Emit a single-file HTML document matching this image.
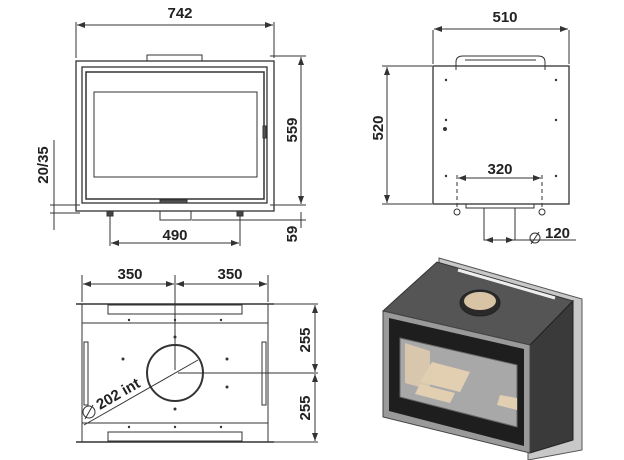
<!DOCTYPE html>
<html><head><style>body{margin:0;background:#fff}svg{display:block}text{font-family:"Liberation Sans",sans-serif;font-size:15px;fill:#222}</style></head><body>
<svg width="624" height="460" viewBox="0 0 624 460" xmlns="http://www.w3.org/2000/svg">
<defs><marker id="a" markerWidth="8" markerHeight="6" refX="8" refY="3" orient="auto-start-reverse"><path d="M0,0L8,3L0,6z" fill="#333"/></marker></defs>
<g stroke="#333" fill="none" stroke-width="1">
<rect x="76" y="61" width="198" height="150" stroke-width="1.3"/>
<rect x="147" y="55" width="55" height="6"/>
<rect x="82" y="67" width="185" height="136" stroke-width="1.3"/>
<rect x="86" y="72" width="178" height="127" stroke-width="1.5"/>
<rect x="94" y="92" width="163" height="85"/>
<rect x="263" y="126" width="3" height="12" fill="#555"/>
<rect x="160" y="200" width="27" height="3" fill="#555"/>
<rect x="160" y="211" width="31" height="9"/>
<rect x="107" y="211" width="6" height="5" fill="#444"/><rect x="237" y="211" width="6" height="5" fill="#444"/>
<line x1="76" y1="22" x2="76" y2="58"/><line x1="274" y1="22" x2="274" y2="58"/>
<line x1="77" y1="25" x2="273" y2="25" marker-start="url(#a)" marker-end="url(#a)"/>
<line x1="270" y1="56" x2="306" y2="56"/><line x1="270" y1="205" x2="306" y2="205"/><line x1="192" y1="220" x2="306" y2="220"/>
<line x1="301" y1="57" x2="301" y2="204" marker-start="url(#a)" marker-end="url(#a)"/>
<line x1="301" y1="212" x2="301" y2="228"/>
<line x1="110" y1="216" x2="110" y2="246"/><line x1="240" y1="216" x2="240" y2="246"/>
<line x1="111" y1="243" x2="239" y2="243" marker-start="url(#a)" marker-end="url(#a)"/>
<line x1="54" y1="140" x2="54" y2="230"/><line x1="50" y1="205" x2="80" y2="205"/><line x1="50" y1="213" x2="80" y2="213"/>
<rect x="433" y="66" width="136" height="138" stroke-width="1.3"/>
<path d="M456,70 V62 Q456,56 463,56 H538 Q545,56 545,62 V70" />
<line x1="465" y1="60" x2="536" y2="60"/>
<line x1="433" y1="30" x2="433" y2="64"/><line x1="569" y1="30" x2="569" y2="64"/>
<line x1="434" y1="29" x2="568" y2="29" marker-start="url(#a)" marker-end="url(#a)"/>
<line x1="382" y1="66" x2="432" y2="66"/><line x1="382" y1="204" x2="432" y2="204"/>
<line x1="387" y1="67" x2="387" y2="203" marker-start="url(#a)" marker-end="url(#a)"/>
<line x1="457" y1="175" x2="457" y2="210" stroke-dasharray="4,3"/><line x1="542" y1="175" x2="542" y2="210" stroke-dasharray="4,3"/>
<line x1="458" y1="178" x2="541" y2="178" marker-start="url(#a)" marker-end="url(#a)"/>
<rect x="466" y="204" width="68" height="4"/>
<rect x="484" y="208" width="31" height="32"/>
<line x1="485" y1="240" x2="514" y2="240" marker-start="url(#a)" marker-end="url(#a)"/>
<line x1="514" y1="240" x2="576" y2="240"/>
<circle cx="457" cy="212" r="3"/><circle cx="542" cy="212" r="3"/>
<circle cx="535" cy="238" r="5"/><line x1="531" y1="244" x2="539" y2="232"/>
<line x1="76" y1="304" x2="274" y2="304" stroke-width="1.5"/><line x1="76" y1="442" x2="274" y2="442" stroke-width="1.5"/>
<rect x="82" y="304" width="186" height="138"/>
<rect x="108" y="305" width="134" height="9"/><rect x="108" y="432" width="134" height="9"/>
<line x1="82" y1="323" x2="268" y2="323"/><line x1="82" y1="423" x2="268" y2="423"/>
<rect x="84" y="342" width="4" height="63"/><rect x="262" y="342" width="4" height="63"/>
<line x1="82" y1="275" x2="82" y2="302"/><line x1="268" y1="275" x2="268" y2="302"/>
<line x1="175" y1="275" x2="175" y2="370"/>
<line x1="83" y1="284" x2="174" y2="284" marker-start="url(#a)" marker-end="url(#a)"/>
<line x1="176" y1="284" x2="267" y2="284" marker-start="url(#a)" marker-end="url(#a)"/>
<circle cx="175" cy="373" r="28" stroke-width="2"/>
<line x1="84" y1="425" x2="198" y2="360"/>
<line x1="178" y1="373" x2="318" y2="373"/>
<line x1="270" y1="304" x2="318" y2="304"/><line x1="270" y1="442" x2="318" y2="442"/>
<line x1="315" y1="305" x2="315" y2="372" marker-start="url(#a)" marker-end="url(#a)"/>
<line x1="315" y1="374" x2="315" y2="441" marker-start="url(#a)" marker-end="url(#a)"/>
<circle cx="89" cy="412" r="6"/><line x1="85" y1="419" x2="93" y2="405"/>
</g>
<g fill="#333">
<circle cx="175" cy="337" r="1.5"/><circle cx="175" cy="409" r="1.5"/><circle cx="123" cy="359" r="1.5"/><circle cx="227" cy="359" r="1.5"/><circle cx="227" cy="387" r="1.5"/>
<circle cx="129" cy="320" r="1.2"/><circle cx="175" cy="320" r="1.2"/><circle cx="221" cy="320" r="1.2"/><circle cx="129" cy="427" r="1.2"/><circle cx="175" cy="427" r="1.2"/><circle cx="221" cy="427" r="1.2"/>
<circle cx="446" cy="80" r="1.2"/><circle cx="556" cy="80" r="1.2"/><circle cx="446" cy="120" r="1.2"/><circle cx="556" cy="120" r="1.2"/><circle cx="446" cy="176" r="1.2"/><circle cx="556" cy="176" r="1.2"/><circle cx="445" cy="129" r="2"/>
</g>
<polygon points="439,258 582,299 582,450 528,460 528,347 439,300" fill="#c8c8c8" stroke="#555"/>
<polygon points="383,311 395,300 437,262 573,301 530,345" fill="#555" stroke="#333"/>
<polygon points="530,345 573,301 573,440 530,453" fill="#3a3a3a" stroke="#222"/>
<polygon points="383,311 530,345 530,453 383,417" fill="#9a9a9a" stroke="#444"/>
<polygon points="389,318 524,349 524,446 389,411" fill="#1e1e1e"/>
<polygon points="400,338 517,365 517,427 400,397" fill="#a8a8a8" stroke="#666"/>
<polygon points="405,343 430,351 430,390 405,383" fill="#d9c7ad"/>
<polygon points="432,362 470,372 460,392 420,382" fill="#e2cfb2"/>
<polygon points="420,384 455,393 450,403 415,394" fill="#e2cfb2"/>
<polygon points="500,395 517,398 517,410 497,405" fill="#e2cfb2"/>
<ellipse cx="480" cy="303" rx="20" ry="13" fill="#2a2a2a" stroke="#222"/>
<ellipse cx="480" cy="301" rx="16" ry="9" fill="#d8c4a4"/>
<line x1="458" y1="270" x2="555" y2="298" stroke="#eee" stroke-width="3"/>
<g font-weight="bold">
<text x="180" y="18" text-anchor="middle">742</text>
<text x="175" y="240" text-anchor="middle">490</text>
<text x="505" y="22" text-anchor="middle">510</text>
<text x="500" y="174" text-anchor="middle">320</text>
<text x="545" y="238">120</text>
<text x="130" y="279" text-anchor="middle">350</text>
<text x="230" y="279" text-anchor="middle">350</text>
<text transform="translate(297,130) rotate(-90)" text-anchor="middle">559</text>
<text transform="translate(297,234) rotate(-90)" text-anchor="middle">59</text>
<text transform="translate(48,165) rotate(-90)" text-anchor="middle">20/35</text>
<text transform="translate(383,128) rotate(-90)" text-anchor="middle">520</text>
<text transform="translate(310,340) rotate(-90)" text-anchor="middle">255</text>
<text transform="translate(310,408) rotate(-90)" text-anchor="middle">255</text>
<text transform="translate(100,410) rotate(-30)">202 int</text>
</g>
</svg>
</body></html>
